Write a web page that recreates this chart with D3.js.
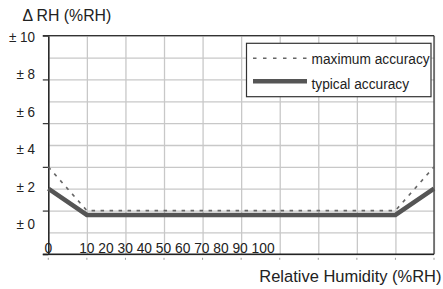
<!DOCTYPE html>
<html>
<head>
<meta charset="utf-8">
<script src="https://cdn.jsdelivr.net/npm/d3@7"></script>
<style>
  body { margin: 0; background: #fff; }
  svg { display: block; font-family: "Liberation Sans", Arial, sans-serif; }
</style>
</head>
<body>
<div id="chart"></div>
<script>
// values
var rh = [0, 10, 90, 100];
var maxAccuracy = [4, 2, 2, 4];
var typAccuracy = [3, 1.8, 1.8, 3];
var xTicks = [0, 10, 20, 30, 40, 50, 60, 70, 80, 90, 100];
var yTicks = [10, 8, 6, 4, 2, 0];
var yGrid = [0, 1, 2, 3, 4, 5, 6, 7, 8, 9, 10];
var seriesNames = ["maximum accuracy", "typical accuracy"];

var width = 443, height = 289;
var margin = { left: 48.3, right: 9, top: 35.7, bottom: 34.7 };
var w = width - margin.left - margin.right,
    h = height - margin.top - margin.bottom;

var svg = d3.select("#chart")
    .append("svg")
    .attr("width", width)
    .attr("height", height);

var x = d3.scaleLinear().domain([0, 100]).range([0, w]);
var y = d3.scaleLinear().domain([0, 10]).range([h, 0]);
// the tick labels on the left sit on their own (squeezed) spacing
var yLabel = d3.scaleLinear().domain([10, 0]).range([41.8, 229.2]);

// text in the source is a bit narrow for its height
function label(parent, px, py, size, sx, anchor, str) {
    return parent.append("text")
        .attr("transform", "translate(" + px + "," + py + ") scale(" + sx + ",1)")
        .attr("text-anchor", anchor)
        .attr("font-size", size)
        .attr("fill", "#222")
        .text(str);
}

var g = svg.append("g")
    .attr("transform", "translate(" + margin.left + "," + margin.top + ")");

// grid
g.append("g")
    .attr("transform", "translate(0," + h + ")")
    .call(d3.axisBottom(x).tickValues(xTicks).tickSize(-h).tickFormat(""))
    .call(function(s) {
        s.select(".domain").remove();
        s.selectAll("line").attr("stroke", "#c8c8c8").attr("stroke-width", 1.3);
    });
g.append("g")
    .call(d3.axisLeft(y).tickValues(yGrid).tickSize(-w).tickFormat(""))
    .call(function(s) {
        s.select(".domain").remove();
        s.selectAll("line").attr("stroke", "#c8c8c8").attr("stroke-width", 1.3);
    });

// frame top / right
g.append("line").attr("x1", -5.5).attr("x2", w).attr("y1", 0).attr("y2", 0)
    .attr("stroke", "#333").attr("stroke-width", 1.2);
g.append("line").attr("x1", w).attr("x2", w).attr("y1", 0).attr("y2", h)
    .attr("stroke", "#333").attr("stroke-width", 1.2);

// left axis
g.append("g")
    .call(d3.axisLeft(y).tickValues(yTicks).tickSize(5.5).tickSizeOuter(0).tickFormat(""))
    .call(function(s) {
        s.select(".domain").attr("stroke", "#222").attr("stroke-width", 1.5);
        s.selectAll("line").attr("stroke", "#333").attr("stroke-width", 1.2);
    });

yTicks.forEach(function(d) {
    label(svg, 35, yLabel(d), 14.8, 0.91, "end", "\u00b1 " + d);
});

// bottom axis line and tiny ticks below
g.append("line").attr("x1", -5.5).attr("x2", w).attr("y1", h).attr("y2", h)
    .attr("stroke", "#222").attr("stroke-width", 1.5);
g.selectAll(".xt")
    .data(xTicks)
    .enter().append("line")
    .attr("class", "xt")
    .attr("x1", function(d) { return x(d); })
    .attr("x2", function(d) { return x(d); })
    .attr("y1", h + 3.5)
    .attr("y2", h + 5.5)
    .attr("stroke", "#999")
    .attr("stroke-width", 1);

// x labels: the 0 at its tick, the rest run on as one line of text
var xs = 0.89, xsize = 15.5;
label(g, x(0), h - 1.2, xsize, xs, "middle", xTicks[0]);
var probe = g.append("text").attr("font-size", xsize).text(xTicks[1]);
var half = probe.node().getComputedTextLength() * xs / 2;
probe.remove();
label(g, x(xTicks[1]) - half, h - 1.2, xsize, xs, "start", xTicks.slice(1).join(" "));

// lines
var line = d3.line()
    .x(function(d) { return x(d[0]); })
    .y(function(d) { return y(d[1]); });

g.append("path")
    .datum(d3.zip(rh, maxAccuracy))
    .attr("fill", "none")
    .attr("stroke", "#666")
    .attr("stroke-width", 1.6)
    .attr("stroke-dasharray", "3.5,5.5")
    .attr("d", line);

g.append("path")
    .datum(d3.zip(rh, typAccuracy))
    .attr("fill", "none")
    .attr("stroke", "#555")
    .attr("stroke-width", 4.5)
    .attr("d", line);

// titles
label(svg, 22.5, 20.8, 16.5, 0.96, "start", "\u0394 RH (%RH)");
label(svg, 441.5, 281.5, 17, 0.97, "end", "Relative Humidity (%RH)");

// legend
var leg = svg.append("g").attr("transform", "translate(246.5,43.3)");
leg.append("rect")
    .attr("width", 184.5)
    .attr("height", 53.4)
    .attr("fill", "#fff")
    .attr("stroke", "#333")
    .attr("stroke-width", 1.2);
leg.append("line")
    .attr("x1", 6.5).attr("x2", 62).attr("y1", 15).attr("y2", 15)
    .attr("stroke", "#666").attr("stroke-width", 1.6).attr("stroke-dasharray", "3.5,6.5");
leg.append("line")
    .attr("x1", 6.5).attr("x2", 60.5).attr("y1", 38).attr("y2", 38)
    .attr("stroke", "#555").attr("stroke-width", 4.5);
seriesNames.forEach(function(d, i) {
    label(leg, 65, 20.3 + i * 25, 14.6, 0.94, "start", d);
});
</script>
</body>
</html>
